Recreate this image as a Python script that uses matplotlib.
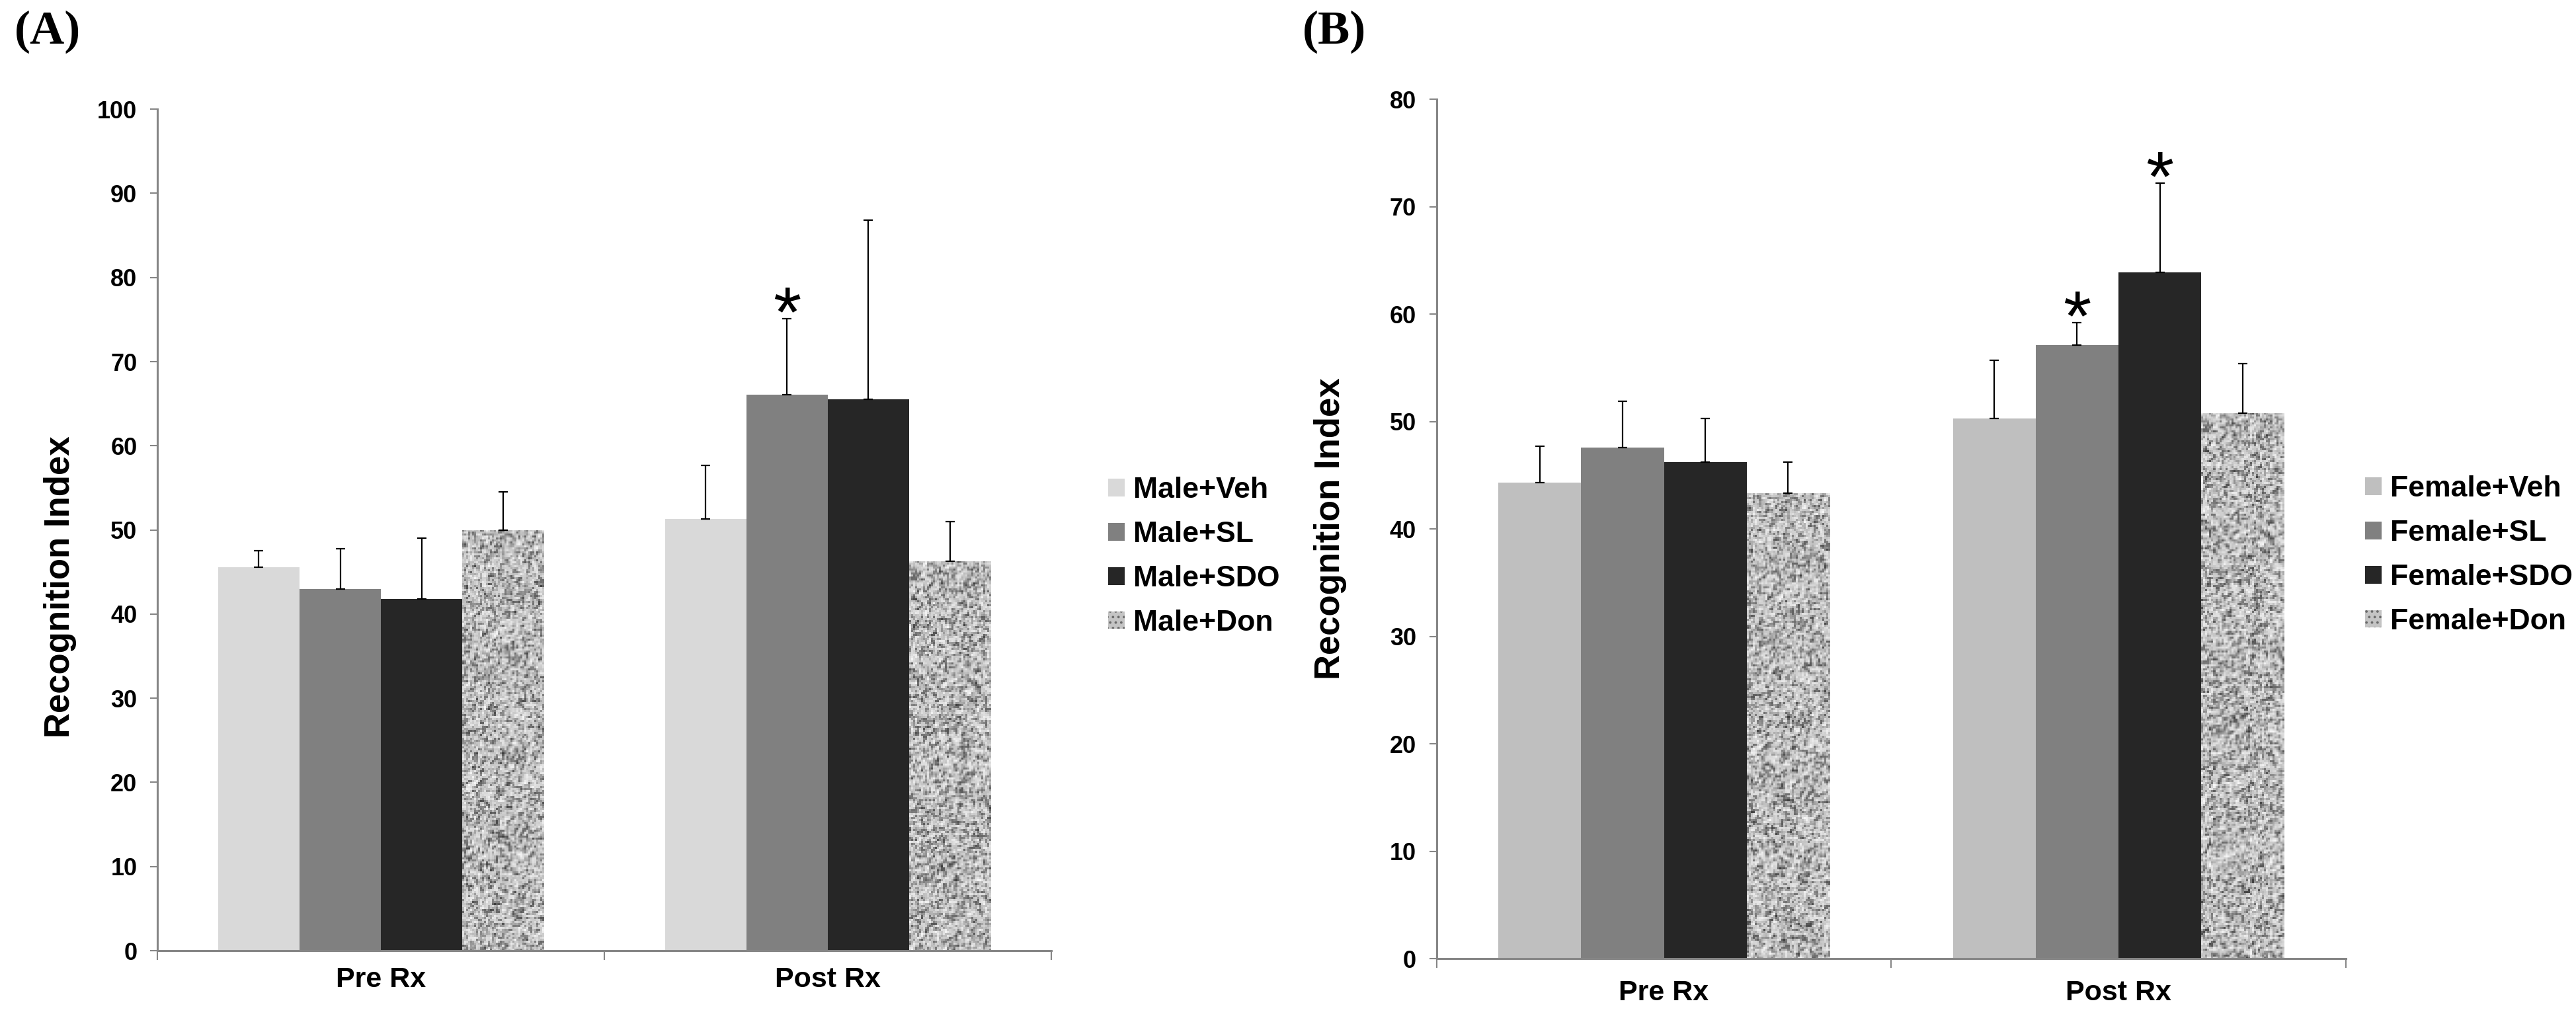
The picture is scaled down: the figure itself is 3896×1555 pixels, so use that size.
import numpy as np
import matplotlib
matplotlib.use("Agg")
import matplotlib.pyplot as plt
from matplotlib.patches import Patch
from matplotlib.colors import LinearSegmentedColormap

plt.rcParams['font.family'] = ['Liberation Sans', 'DejaVu Sans']
plt.rcParams['font.weight'] = 'bold'
plt.rcParams['hatch.linewidth'] = 1.5

# ---- data ----
phases = ["Pre Rx", "Post Rx"]

male_groups = ["Male+Veh", "Male+SL", "Male+SDO", "Male+Don"]
male_pre = [45.6, 43.0, 41.8, 50.0]
male_pre_err = [1.9, 4.8, 7.2, 4.5]
male_post = [51.3, 66.1, 65.5, 46.3]
male_post_err = [6.4, 9.0, 21.3, 4.7]
male_stars = [(1, 1)]          # (phase index, group index)

female_groups = ["Female+Veh", "Female+SL", "Female+SDO", "Female+Don"]
female_pre = [44.3, 47.6, 46.2, 43.3]
female_pre_err = [3.4, 4.3, 4.1, 2.9]
female_post = [50.3, 57.1, 63.9, 50.8]
female_post_err = [5.4, 2.1, 8.3, 4.6]
female_stars = [(1, 1), (1, 2)]

male_colors = ["#d9d9d9", "#808080", "#262626", None]
female_colors = ["#bfbfbf", "#808080", "#262626", None]

granite_cmap = LinearSegmentedColormap.from_list(
    "granite", [(0.0, "#3c3c3c"), (0.3, "#7e7e7e"), (0.5, "#bdbdbd"), (0.75, "#dedede"), (1.0, "#f5f5f5")])


def granite(ny, nx, seed):
    # deterministic speckle texture (hash noise), lightly smoothed
    i, j = np.mgrid[0:ny, 0:nx].astype(float)
    a = np.sin(i * 127.1 + j * 311.7 + seed * 17.3) * 43758.5453
    b = np.sin(i * 269.5 + j * 183.3 + seed * 7.9) * 24634.6345
    n = (a - np.floor(a)) * 0.6 + (b - np.floor(b)) * 0.4
    s = (2 * n + np.roll(n, 1, 0) + np.roll(n, 1, 1)) / 4
    return s


def draw_panel(ax, groups, colors, pre, pre_err, post, post_err, stars, ymax, xpad):
    n = len(groups)
    width = 0.182
    x = np.arange(len(phases))
    ax.set_xlim(-0.5, 1.5)
    ax.set_ylim(0, ymax)
    bbox = ax.get_window_extent()
    px_per_unit = bbox.height / ymax
    px_per_x = bbox.width / 2.0
    tops = {}
    for g in range(n):
        vals = [pre[g], post[g]]
        errs = [pre_err[g], post_err[g]]
        xs = x + (g - (n - 1) / 2) * width
        fc = colors[g] if colors[g] is not None else "#b8b8b8"
        bars = ax.bar(xs, vals, width, color=fc, linewidth=0, zorder=2)
        if colors[g] is None:
            for k, b in enumerate(bars):
                hh = b.get_height()
                ny = max(int(hh * px_per_unit / 3), 2)
                nx = max(int(width * px_per_x / 3), 2)
                tex = granite(ny, nx, 5 * k + g + 1)
                x0 = b.get_x()
                im = ax.imshow(tex, extent=(x0, x0 + width, 0, hh), aspect='auto',
                               cmap=granite_cmap, vmin=0.12, vmax=0.85,
                               interpolation='nearest', zorder=2.5)
                im.set_clip_path(b)
        ax.errorbar(xs, vals, yerr=[np.zeros(2), errs], fmt='none', ecolor='black',
                    elinewidth=1.6, capsize=5, capthick=1.6, zorder=3)
        for k in range(2):
            tops[(k, g)] = (xs[k], vals[k] + errs[k])
    for key in stars:
        sx, sy = tops[key]
        ax.annotate("*", xy=(sx, sy), xytext=(0, -19), textcoords='offset points',
                    ha='center', va='baseline', fontsize=78, fontweight='normal', zorder=4)

    ax.set_xlim(-0.5, 1.5)
    ax.set_ylim(0, ymax)
    ax.set_yticks(np.arange(0, ymax + 1, 10))
    ax.set_xticks(x)
    ax.set_xticklabels(phases, fontsize=31, fontweight='bold')
    ax.set_xticks([-0.5, 0.5, 1.5], minor=True)
    ax.tick_params(axis='x', which='major', length=0, pad=xpad)
    ax.tick_params(axis='x', which='minor', length=10, width=1.5, color='#868686', direction='out')
    ax.tick_params(axis='y', length=8, width=1.5, color='#868686', labelsize=26, pad=14)
    for lab in ax.get_yticklabels():
        lab.set_fontweight('bold')
    for s in ['top', 'right']:
        ax.spines[s].set_visible(False)
    for s in ['left', 'bottom']:
        ax.spines[s].set_color('#868686')
        ax.spines[s].set_linewidth(2.2)
    ax.set_ylabel("Recognition Index", fontsize=38, fontweight='bold')

    handles = [Patch(facecolor=colors[g], linewidth=0) for g in range(n - 1)]
    handles.append(Patch(facecolor='#c4c4c4', hatch='..', edgecolor='#6a6a6a', linewidth=0))
    return handles


fig = plt.figure(figsize=(38.96, 15.55), dpi=100)

axA = fig.add_axes([0.0611, 0.0752, 0.3470, 0.8186])
hA = draw_panel(axA, male_groups, male_colors, male_pre, male_pre_err,
                male_post, male_post_err, male_stars, 100, 17)
axA.yaxis.set_label_coords(-0.09, 0.432)
fig.legend(hA, male_groups, loc='center left', bbox_to_anchor=(0.4245, 0.4585),
           frameon=False, handlelength=0.55, handleheight=0.55,
           handletextpad=0.3, labelspacing=0.58, borderpad=0,
           prop={'weight': 'bold', 'size': 32})

axB = fig.add_axes([0.5577, 0.0675, 0.3529, 0.8360])
hB = draw_panel(axB, female_groups, female_colors, female_pre, female_pre_err,
                female_post, female_post_err, female_stars, 80, 23)
axB.yaxis.set_label_coords(-0.099, 0.5)
fig.legend(hB, female_groups, loc='center left', bbox_to_anchor=(0.9125, 0.4598),
           frameon=False, handlelength=0.55, handleheight=0.55,
           handletextpad=0.3, labelspacing=0.58, borderpad=0,
           prop={'weight': 'bold', 'size': 32})

fig.text(0.0056, 0.99, "(A)", fontsize=52, fontweight='bold', family='Liberation Serif', va='top')
fig.text(0.5057, 0.99, "(B)", fontsize=52, fontweight='bold', family='Liberation Serif', va='top')

fig.savefig("out.png", dpi=100)
